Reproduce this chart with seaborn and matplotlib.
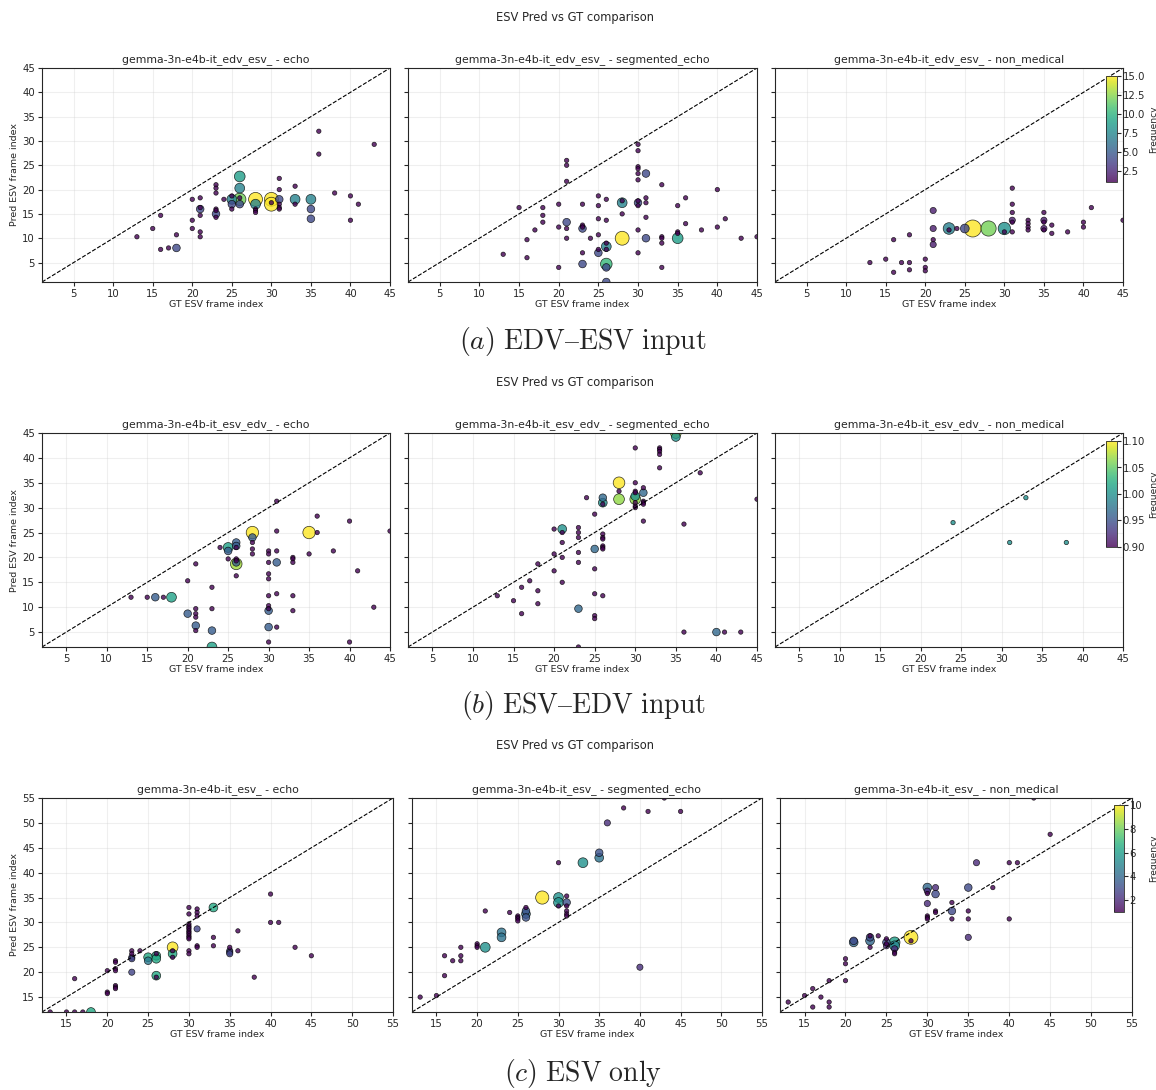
"""
ESV Pred vs GT comparison: three input settings x three prompt types.
Point size and colour both encode how often a (GT, Pred) pair occurs.
"""
import numpy as np
import pandas as pd
import matplotlib
matplotlib.use("Agg")
import matplotlib.pyplot as plt
from matplotlib.ticker import MaxNLocator
import seaborn as sns

# ── Data (gt frame, predicted frame, frequency) ───────────────────

# (a) EDV-ESV input
A1_GT = [13, 15, 16, 16, 17, 18, 18, 20, 20, 20, 21, 21, 21, 21, 21, 21,
         23, 23, 23, 23, 23, 23, 23, 24, 25, 25, 25, 25, 26, 26, 26, 26, 26,
         28, 28, 28, 28, 28, 30, 30, 30, 31, 31, 31, 31, 31, 31, 33, 33, 33,
         35, 35, 35, 36, 36, 38, 40, 40, 41, 43]
A1_PRED = [10.3, 12, 14.7, 7.7, 8, 10.7, 8, 18, 13.7, 12, 18.3, 16.3, 16, 14.7, 11.3, 10.3,
           21, 20.3, 19.3, 16, 15.7, 15, 14.3, 18, 18.7, 18, 17, 16, 22.7, 20.3, 18.3, 18, 17,
           18, 17, 16, 15.7, 15.3, 18, 17, 17.3, 22.3, 20, 18, 17, 16.3, 16, 20.7, 18, 17,
           18, 16, 14, 32, 27.3, 19.3, 18.7, 13.7, 17, 29.3]
A1_FREQ = [1, 1, 1, 1, 1, 1, 3, 1, 1, 1, 1, 1, 3, 1, 1, 1,
           1, 1, 1, 1, 1, 3, 1, 1, 1, 5, 3, 1, 6, 5, 1, 8, 3,
           10, 5, 1, 1, 1, 10, 10, 1, 1, 1, 3, 1, 1, 1, 1, 5, 1,
           5, 3, 3, 1, 1, 1, 1, 1, 1, 1]

A2_GT = [13, 15, 16, 16, 17, 18, 18, 18, 20, 20, 20, 21, 21, 21, 21, 21, 21,
         23, 23, 23, 23, 23, 23, 24, 25, 25, 25, 25, 25, 25,
         26, 26, 26, 26, 26, 26, 26, 26, 28, 28, 28, 28,
         30, 30, 30, 30, 30, 30, 30, 30, 30, 30, 30, 31, 31, 31, 31, 31,
         33, 33, 33, 33, 33, 35, 35, 35, 35, 36, 36, 38, 40, 40, 41, 43, 45]
A2_PRED = [6.7, 16.3, 9.7, 6, 11.7, 16.3, 14.7, 13.3, 17, 12.3, 4, 26, 25, 21.7, 13.3, 12, 10,
           17, 12.7, 12.3, 12, 7, 4.7, 10, 18.7, 16.7, 14, 10.7, 7.7, 7,
           18, 13.7, 9, 8.3, 7.7, 4.7, 4, 1, 17.3, 17.7, 15, 10,
           29.3, 28, 24.7, 24.3, 23.3, 22, 17.7, 17.3, 16.7, 11.7, 7, 23.3, 18.3, 17.3, 14.3, 10,
           21, 10.3, 10, 9, 4, 16.7, 11.3, 11, 10, 18.3, 13, 11.7, 20, 12.3, 14, 10, 10.3]
A2_FREQ = [1, 1, 1, 1, 1, 1, 1, 1, 1, 1, 1, 1, 1, 1, 3, 1, 1,
           1, 1, 1, 3, 1, 3, 1, 1, 1, 1, 1, 1, 3,
           1, 1, 1, 5, 1, 7, 3, 3, 5, 1, 1, 10,
           1, 1, 1, 1, 1, 1, 1, 3, 1, 1, 1, 3, 1, 1, 1, 3,
           1, 1, 1, 1, 1, 1, 1, 1, 6, 1, 1, 1, 1, 1, 1, 1, 1]

A3_GT = [13, 15, 16, 16, 17, 18, 18, 18, 20, 20, 20, 21, 21, 21, 21,
         23, 23, 24, 25, 26, 28, 30, 30, 31, 31, 31, 31, 31, 31,
         33, 33, 33, 33, 35, 35, 35, 35, 35, 36, 36, 38, 40, 40, 41, 45]
A3_PRED = [5, 5.7, 9.7, 3, 5, 10.7, 5, 3.5, 5.7, 4, 3.3, 15.7, 12, 9.7, 8.7,
           12, 11.7, 12, 12, 12, 12, 12, 11.3, 20.3, 17, 15.3, 13.7, 13.3, 11.3,
           13.7, 13, 12.3, 11.7, 15.3, 13.7, 13.3, 12, 11.7, 12.7, 11, 11.3, 13.3, 12.3, 16.3, 13.7]
A3_FREQ = [1, 1, 1, 1, 1, 1, 1, 1, 1, 1, 1, 2, 2, 1, 2,
           7, 1, 1, 4, 15, 12, 8, 1, 1, 1, 1, 2, 1, 1,
           1, 1, 1, 1, 1, 2, 1, 2, 1, 1, 1, 1, 1, 1, 1, 1]

# (b) ESV-EDV input
B1_GT = [13, 15, 16, 17, 18, 20, 20, 21, 21, 21, 21, 21, 21, 23, 23, 23, 23, 24,
         25, 25, 25, 26, 26, 26, 26, 26, 26, 26, 26, 28, 28, 28, 28, 28,
         30, 30, 30, 30, 30, 30, 30, 30, 30, 30, 30, 31, 31, 31, 31, 31, 31,
         33, 33, 33, 33, 33, 35, 35, 36, 36, 38, 40, 40, 41, 43, 45]
B1_PRED = [12, 12, 12, 12, 12, 15.3, 8.7, 18.7, 9.7, 8.7, 8, 6.3, 5.3, 14, 9.7, 5.3, 2, 22,
           22, 21.3, 19.7, 23, 22.3, 22, 19.7, 19.3, 19, 18.7, 16.3, 25, 24, 23, 21.7, 20.7,
           21.3, 20.7, 19, 16.7, 15.7, 12.3, 10.3, 9.7, 9.3, 6, 3, 31.3, 25.3, 21.3, 19, 12.7, 6,
           20, 19.7, 19, 12.3, 9.3, 25, 20.7, 28.3, 25, 21.3, 27.3, 3, 17.3, 10, 25.3]
B1_FREQ = [1, 1, 3, 1, 5, 1, 3, 1, 1, 1, 1, 3, 1, 1, 1, 3, 5, 1,
           5, 3, 1, 3, 3, 1, 1, 1, 3, 7, 1, 8, 3, 1, 1, 1,
           1, 1, 1, 1, 1, 1, 1, 1, 3, 3, 1, 1, 1, 1, 3, 1, 1,
           1, 1, 1, 1, 1, 8, 1, 1, 1, 1, 1, 1, 1, 1, 1]

B2_GT = [13, 15, 16, 16, 17, 18, 18, 18, 20, 20, 20, 21, 21, 21, 21, 21,
         23, 23, 23, 23, 23, 23, 23, 24, 25, 25, 25, 25, 25, 25,
         26, 26, 26, 26, 26, 26, 26, 26, 26, 26, 28, 28, 28,
         30, 30, 30, 30, 30, 30, 30, 30, 30, 31, 31, 31, 31, 31, 31,
         33, 33, 33, 33, 33, 35, 35, 36, 36, 38, 40, 41, 43, 45]
B2_PRED = [12.3, 11.3, 8.7, 14, 15.3, 18.7, 13.3, 10.7, 25.7, 20.7, 17.3, 25.7, 25, 23, 20, 15,
           26, 25, 24, 21, 19, 9.7, 2, 32, 28.7, 21.7, 17.7, 12.7, 8.3, 7.7,
           32, 31, 30.7, 24.7, 24, 23.7, 22.3, 22, 21.7, 12.3, 35, 33.3, 31.7,
           42, 35, 33.3, 33, 32.3, 31.7, 31, 30.3, 30, 34, 33, 31.3, 31, 30.7, 27.3,
           42, 41.7, 41.3, 40.7, 38, 45, 44.2, 26.7, 5, 37, 5, 5, 5, 31.7]
B2_FREQ = [1, 1, 1, 1, 1, 1, 1, 1, 1, 1, 1, 4, 1, 1, 1, 1,
           1, 1, 1, 1, 1, 3, 1, 1, 1, 3, 1, 1, 1, 1,
           3, 4, 1, 1, 1, 1, 1, 1, 1, 1, 7, 1, 6,
           1, 1, 1, 1, 4, 6, 1, 1, 1, 1, 3, 1, 1, 1, 1,
           1, 1, 1, 1, 1, 6, 4, 1, 1, 1, 3, 1, 1, 1]

B3_GT = [24, 33, 31, 38]
B3_PRED = [27, 32, 23, 23]
B3_FREQ = [1, 1, 1, 1]

# (c) ESV only
C1_GT = [13, 15, 16, 17, 18, 16, 20, 20, 20, 21, 21, 21, 21, 21, 21, 21,
         23, 23, 23, 23, 23, 24, 25, 25, 26, 26, 26, 26, 26, 28, 28, 28, 28,
         30, 30, 30, 30, 30, 30, 30, 30, 30, 30, 30, 30, 30, 30,
         31, 31, 31, 31, 31, 31, 33, 33, 33, 35, 35, 35, 35,
         36, 36, 38, 40, 40, 41, 43, 45]
C1_PRED = [12, 12, 12, 12, 12, 18.7, 20.3, 16, 15.7, 22.3, 22, 20.7, 20.3, 17.3, 17, 16.7,
           24.3, 23.7, 23, 22.7, 20, 24.3, 23, 22.3, 23.7, 23.3, 22.7, 19.3, 19, 25, 24.3, 23.7, 23,
           33, 31.7, 29.7, 29.3, 29, 28.7, 28.3, 28, 27.7, 27.3, 27, 26.7, 24.3, 23.7,
           32.7, 32, 31.3, 28.7, 25.3, 25, 33, 27, 25.3, 25, 24.3, 24, 23.7,
           28.3, 24.3, 19, 35.7, 30, 30, 25, 23.3]
C1_FREQ = [1, 1, 1, 1, 4, 1, 1, 1, 1, 1, 1, 1, 1, 1, 1, 1,
           1, 1, 2, 2, 2, 1, 4, 3, 1, 4, 4, 4, 1, 6, 1, 4, 1,
           1, 1, 1, 1, 1, 1, 1, 1, 1, 1, 1, 1, 1, 1,
           1, 1, 1, 2, 1, 1, 4, 1, 1, 1, 2, 2, 2,
           1, 1, 1, 1, 1, 1, 1, 1]

C2_GT = [13, 15, 16, 16, 17, 18, 18, 18, 20, 20, 20, 21, 21, 23, 23, 24,
         25, 25, 25, 25, 26, 26, 26, 26, 28, 30, 30, 30, 30,
         31, 31, 31, 31, 31, 31, 33, 35, 35, 36, 38, 40, 41, 43, 45]
C2_PRED = [15, 15.3, 23.3, 19.3, 22.3, 25, 23.3, 22.3, 25.7, 25.3, 25, 25, 32.3, 28, 27, 32,
           31.3, 31, 30.7, 30.3, 33, 32.3, 31.7, 31, 35, 42, 35, 34, 33.3,
           35.3, 34, 33.3, 32.3, 31.7, 31.3, 42, 44, 43, 50, 53, 21, 52.3, 55, 52.3]
C2_FREQ = [1, 1, 1, 1, 1, 1, 1, 1, 1, 1, 1, 5, 1, 4, 4, 1,
           1, 1, 1, 1, 1, 3, 4, 3, 9, 1, 5, 5, 1,
           1, 3, 1, 1, 1, 1, 5, 3, 4, 2, 1, 2, 1, 1, 1]

C3_GT = [13, 15, 16, 16, 17, 18, 18, 18, 20, 20, 20, 21, 21, 23, 23, 23, 23, 24,
         25, 25, 25, 25, 26, 26, 26, 26, 26, 28, 28,
         30, 30, 30, 30, 30, 30, 30, 31, 31, 31, 31, 33, 33, 33,
         35, 35, 35, 35, 36, 38, 40, 40, 41, 43, 45]
C3_PRED = [14, 15.3, 16.7, 13, 15, 18.3, 14, 13, 22.7, 21.7, 18.3, 26, 26.3, 26.3, 27, 27.3, 25, 27.3,
           26.7, 26, 25.3, 25.7, 26, 25.3, 24.7, 24, 23.7, 27, 26.3,
           37, 36.3, 35.8, 33.8, 31.3, 31, 30.7, 37, 35.7, 32.3, 32, 34, 32.3, 30.7,
           37, 32.3, 30.7, 27, 42, 37, 42, 30.7, 42, 55, 47.7]
C3_FREQ = [1, 1, 1, 1, 1, 1, 1, 1, 1, 1, 1, 4, 3, 4, 3, 1, 1, 1,
           1, 3, 2, 1, 6, 5, 2, 1, 1, 10, 1,
           4, 2, 1, 2, 1, 1, 1, 2, 3, 1, 1, 1, 3, 1,
           3, 1, 1, 2, 2, 1, 1, 1, 1, 1, 1]

PROMPTS = ["echo", "segmented_echo", "non_medical"]
ROW_MODELS = ["gemma-3n-e4b-it_edv_esv_", "gemma-3n-e4b-it_esv_edv_", "gemma-3n-e4b-it_esv_"]
CAPTIONS = [r"$(a)\ \mathrm{EDV–ESV\ input}$",
            r"$(b)\ \mathrm{ESV–EDV\ input}$",
            r"$(c)\ \mathrm{ESV\ only}$"]

ROWS = [
    [(A1_GT, A1_PRED, A1_FREQ), (A2_GT, A2_PRED, A2_FREQ), (A3_GT, A3_PRED, A3_FREQ)],
    [(B1_GT, B1_PRED, B1_FREQ), (B2_GT, B2_PRED, B2_FREQ), (B3_GT, B3_PRED, B3_FREQ)],
    [(C1_GT, C1_PRED, C1_FREQ), (C2_GT, C2_PRED, C2_FREQ), (C3_GT, C3_PRED, C3_FREQ)],
]

# ── Layout (pixel boxes in the 1156x1090 canvas) ───────────────────
W, H = 1156, 1090
ROW_Y = [(68, 282), (433, 647), (798, 1012)]
COL_X = [[(42, 390), (408, 757), (775, 1123)],
         [(42, 390), (408, 757), (775, 1123)],
         [(42, 393), (412, 762), (780, 1132)]]
CBAR_BOX = [(1106, 76, 1117, 182), (1106, 441, 1117, 547), (1114, 805, 1124, 912)]
CBAR_LABEL_X = [1149, 1149, 1149]
SUPTITLE_Y = [17, 382, 746]
CAPTION_Y = [341, 706, 1073]


def rect(x0, y0, x1, y1):
    return [x0 / W, 1 - y1 / H, (x1 - x0) / W, (y1 - y0) / H]


def freq_norm(freq):
    lo, hi = min(freq), max(freq)
    if lo == hi:
        return (lo - 0.1, hi + 0.1)
    return (lo, hi)


def draw_panel(ax, gt, pred, freq, lo, hi, title, first):
    df = pd.DataFrame({"gt": gt, "pred": pred, "freq": freq})
    df = df.sort_values("freq", ascending=False, kind="stable")
    sizes = {f: 10 * f for f in df["freq"].unique()}
    sns.scatterplot(data=df, x="gt", y="pred", hue="freq", size="freq",
                    palette="viridis", hue_norm=freq_norm(freq), sizes=sizes,
                    alpha=0.8, edgecolor="black", linewidth=0.5, legend=False, ax=ax)
    ax.plot([lo, hi], [lo, hi], color="black", ls="--", lw=0.8, zorder=1)
    ax.set_xlim(lo, hi)
    ax.set_ylim(lo, hi)
    ax.grid(True, alpha=0.3)
    ax.set_axisbelow(True)
    ax.set_title(title, fontsize=7.8, pad=4)
    ax.set_xlabel("GT ESV frame index", fontsize=6.8, labelpad=1)
    ax.tick_params(labelsize=7.3, length=3, pad=2)
    if first:
        ax.set_ylabel("Pred ESV frame index", fontsize=6.8, labelpad=2)
    else:
        ax.set_ylabel("")
        ax.tick_params(labelleft=False)


def main():
    sns.set_style("ticks")
    plt.rcParams["font.family"] = ["DejaVu Sans"]
    plt.rcParams["mathtext.fontset"] = "cm"

    fig = plt.figure(figsize=(W / 100, H / 100), dpi=100)

    for r, row in enumerate(ROWS):
        vals = [v for gt, pred, _ in row for v in list(gt) + list(pred)]
        lo, hi = min(vals), max(vals)
        y0, y1 = ROW_Y[r]
        for c, (gt, pred, freq) in enumerate(row):
            x0, x1 = COL_X[r][c]
            ax = fig.add_axes(rect(x0, y0, x1, y1))
            draw_panel(ax, gt, pred, freq, lo, hi,
                       f"{ROW_MODELS[r]} - {PROMPTS[c]}", c == 0)

        # colorbar only for the last panel of each row
        gt, pred, freq = row[2]
        box = CBAR_BOX[r]
        cax = fig.add_axes(rect(*box))
        sm = matplotlib.cm.ScalarMappable(norm=plt.Normalize(*freq_norm(freq)), cmap="viridis")
        sm.set_array([])
        cb = fig.colorbar(sm, cax=cax, alpha=0.8)
        cb.locator = MaxNLocator(nbins=6, steps=[1, 2, 2.5, 5, 10])
        cb.update_ticks()
        cb.set_label("Frequency", fontsize=6.6)
        cb.ax.yaxis.set_label_coords((CBAR_LABEL_X[r] - box[0]) / (box[2] - box[0]), 0.5)
        cb.ax.tick_params(labelsize=7.3, length=3, pad=1)
        cb.outline.set_linewidth(0.6)

        fig.text(575 / W, 1 - SUPTITLE_Y[r] / H, "ESV Pred vs GT comparison",
                 ha="center", va="center", fontsize=8.3)
        fig.text(583 / W, 1 - CAPTION_Y[r] / H, CAPTIONS[r],
                 ha="center", va="center", fontsize=20)

    fig.savefig("out.png", dpi=100)
    plt.close(fig)


if __name__ == "__main__":
    main()
